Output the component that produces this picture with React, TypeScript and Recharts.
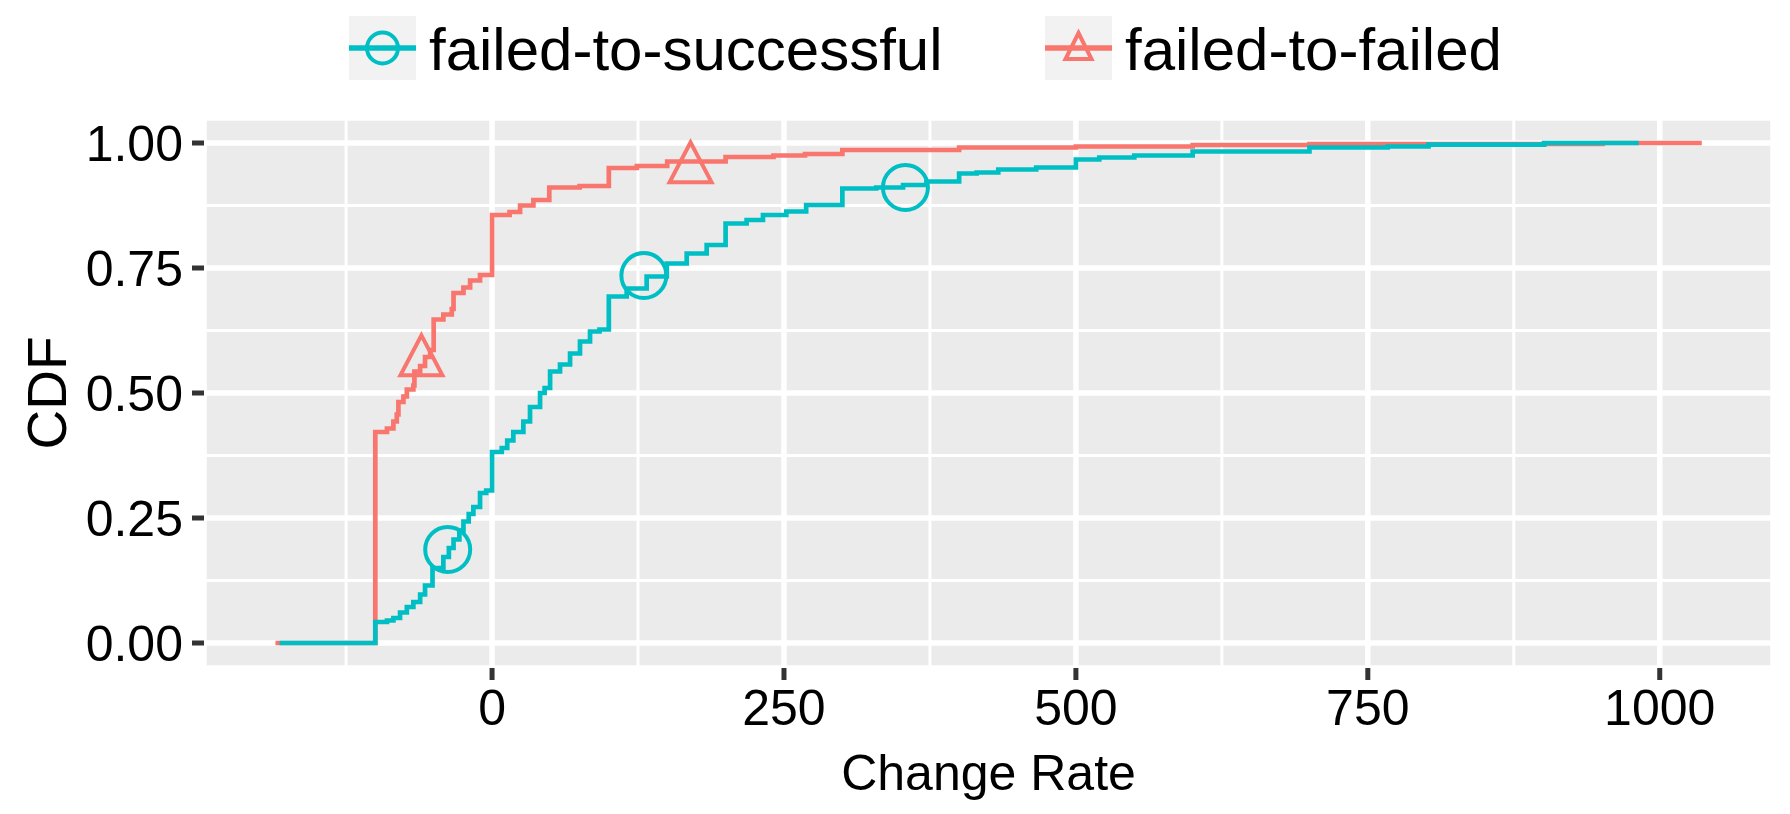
import { ComposedChart, Line, Scatter, XAxis, YAxis, CartesianGrid } from "recharts";

// ECDF step corners (x = change rate, y = CDF after the step)
const successX = [-182, -100, -90, -84.5, -78.8, -73, -67.4, -61.6, -57.4, -51, -41.7, -37, -33, -28, -24.5, -20, -16, -10.3, -5, 0, 8.3, 13, 18.2, 26.8, 32.5, 41.1, 45, 49.7, 58.2, 66.8, 75.3, 83.9, 92, 100, 115.3, 132.4, 149.6, 166.7, 183.8, 200, 218, 232, 252, 269, 300, 329, 352, 372, 400, 415, 433.5, 466, 500, 520, 550, 600, 700, 767, 802, 901, 982];
const successY = [0, 0.042, 0.045, 0.05, 0.061, 0.072, 0.082, 0.097, 0.115, 0.15, 0.172, 0.19, 0.207, 0.225, 0.243, 0.258, 0.272, 0.3, 0.305, 0.382, 0.39, 0.405, 0.422, 0.443, 0.472, 0.5, 0.51, 0.543, 0.557, 0.579, 0.603, 0.623, 0.627, 0.693, 0.709, 0.733, 0.759, 0.779, 0.796, 0.839, 0.846, 0.856, 0.863, 0.876, 0.909, 0.911, 0.916, 0.923, 0.939, 0.941, 0.947, 0.951, 0.967, 0.971, 0.975, 0.983, 0.991, 0.993, 0.9966, 1, 1];

const failedX = [-185.5, -100, -90, -84.5, -81.6, -80.2, -75.9, -73, -67.4, -66.5, -61.6, -57.4, -53, -50, -41.7, -34.5, -33, -24.5, -18.8, -10.3, 0, 15, 24, 35.4, 49, 75, 100, 124, 150, 200, 241, 268, 300, 400, 500, 600, 700, 951, 1036];
const failedY = [0, 0.422, 0.429, 0.443, 0.457, 0.482, 0.493, 0.507, 0.515, 0.543, 0.554, 0.572, 0.586, 0.647, 0.657, 0.668, 0.7, 0.711, 0.725, 0.736, 0.856, 0.862, 0.875, 0.886, 0.911, 0.914, 0.95, 0.954, 0.963, 0.972, 0.975, 0.978, 0.986, 0.991, 0.993, 0.996, 0.998, 1, 1];

// point markers laid on the curves
const circleX = [-38, 130, 354];
const circleY = [0.187, 0.735, 0.911];
const triangleX = [-60.5, 170];
const triangleY = [0.562, 0.948];

const xTicks = [0, 250, 500, 750, 1000];
const xMinor = [-125, 125, 375, 625, 875];
const yTicks = [0, 0.25, 0.5, 0.75, 1];
const yMinor = [0.125, 0.375, 0.625, 0.875];
const xLimits = [-246.7, 1097];
const yLimits = [-0.05, 1.05];

const CYAN = "#00BFC4";
const RED = "#F8766D";
const FONT = "'Liberation Sans', Arial, Helvetica, sans-serif";

const zip = (xs: number[], ys: number[]) => xs.map((x, i) => ({ x, y: ys[i] }));
const successData = zip(successX, successY);
const failedData = zip(failedX, failedY);
const circleData = zip(circleX, circleY);
const triangleData = zip(triangleX, triangleY);

function CircleMark(props: any) {
  const { cx, cy } = props;
  return <circle cx={cx} cy={cy} r={22.5} fill="none" stroke={CYAN} strokeWidth={4} />;
}

function TriangleMark(props: any) {
  const { cx, cy } = props;
  const h = 40;
  const w = 42;
  const d = `M${cx},${cy - (2 * h) / 3} L${cx + w / 2},${cy + h / 3} L${cx - w / 2},${cy + h / 3} Z`;
  return <path d={d} fill="none" stroke={RED} strokeWidth={4} strokeLinejoin="miter" />;
}

const legendItems = [
  { name: "failed-to-successful", color: CYAN, kind: "circle", left: 349, textWidth: 617 },
  { name: "failed-to-failed", color: RED, kind: "triangle", left: 1045, textWidth: 420 },
];

function LegendKey({ color, kind }: { color: string; kind: string }) {
  return (
    <svg width={67} height={64} style={{ background: "#F2F2F2", display: "block" }}>
      <line x1={0} x2={67} y1={32} y2={32} stroke={color} strokeWidth={5.5} />
      {kind === "circle" ? (
        <circle cx={33.5} cy={32} r={15.5} fill="none" stroke={color} strokeWidth={4} />
      ) : (
        <path d="M33.5,17 L46.5,43 L20.5,43 Z" fill="none" stroke={color} strokeWidth={4} />
      )}
    </svg>
  );
}

function yLabel(props: any) {
  const vb = props.viewBox || { x: 0, y: 118, width: 204, height: 550 };
  const x = vb.x + 47;
  const y = vb.y + vb.height / 2;
  return (
    <text
      x={x}
      y={y}
      transform={`rotate(-90, ${x}, ${y})`}
      textAnchor="middle"
      dominantBaseline="central"
      fontSize={55}
      fontFamily={FONT}
      fill="#000"
    >
      CDF
    </text>
  );
}

export default function App() {
  const tickStyle = { fill: "#000", fontSize: 50, fontFamily: FONT };
  return (
    <div style={{ position: "fixed", left: 0, top: 0, width: 1790, height: 814, background: "#fff" }}>
      <div style={{ position: "absolute", top: 16, left: 0, width: 1790, height: 64, fontFamily: FONT }}>
        {legendItems.map((it) => (
          <div
            key={it.name}
            style={{ position: "absolute", left: it.left, top: 0, display: "flex", alignItems: "center", height: 64 }}
          >
            <LegendKey color={it.color} kind={it.kind} />
            <span style={{ marginLeft: 13, fontSize: 60, color: "#000", width: it.textWidth, marginTop: 3, whiteSpace: "nowrap" }}>
              {it.name}
            </span>
          </div>
        ))}
      </div>
      <ComposedChart
        width={1790}
        height={814}
        margin={{ top: 118, right: 17, bottom: 0, left: 0 }}
        style={{ fontFamily: FONT }}
      >
        <XAxis
          xAxisId="minor"
          type="number"
          dataKey="x"
          domain={xLimits}
          ticks={xMinor}
          allowDataOverflow
          hide
        />
        <YAxis
          yAxisId="minor"
          type="number"
          dataKey="y"
          domain={yLimits}
          ticks={yMinor}
          allowDataOverflow
          hide
        />
        <CartesianGrid xAxisId="minor" yAxisId="minor" stroke="#fff" strokeWidth={3} fill="#EBEBEB" />
        <CartesianGrid stroke="#fff" strokeWidth={5.5} />
        <XAxis
          type="number"
          dataKey="x"
          domain={xLimits}
          ticks={xTicks}
          interval={0}
          allowDataOverflow
          height={146}
          axisLine={false}
          tickSize={12}
          tickMargin={9}
          tickLine={{ stroke: "#333333", strokeWidth: 5 }}
          tick={tickStyle}
          label={{ value: "Change Rate", position: "insideBottom", offset: 24, fontSize: 50, fill: "#000", fontFamily: FONT }}
        />
        <YAxis
          type="number"
          dataKey="y"
          domain={yLimits}
          ticks={yTicks}
          interval={0}
          allowDataOverflow
          width={204}
          axisLine={false}
          tickSize={12}
          tickMargin={9}
          tickLine={{ stroke: "#333333", strokeWidth: 5 }}
          tick={tickStyle}
          tickFormatter={(v: number) => v.toFixed(2)}
          label={{ content: yLabel }}
        />
        <Line
          data={failedData}
          dataKey="y"
          type="stepAfter"
          stroke={RED}
          strokeWidth={4.7}
          dot={false}
          isAnimationActive={false}
        />
        <Line
          data={successData}
          dataKey="y"
          type="stepAfter"
          stroke={CYAN}
          strokeWidth={4.7}
          dot={false}
          isAnimationActive={false}
        />
        <Scatter data={circleData} dataKey="y" shape={CircleMark} isAnimationActive={false} />
        <Scatter data={triangleData} dataKey="y" shape={TriangleMark} isAnimationActive={false} />
      </ComposedChart>
    </div>
  );
}
